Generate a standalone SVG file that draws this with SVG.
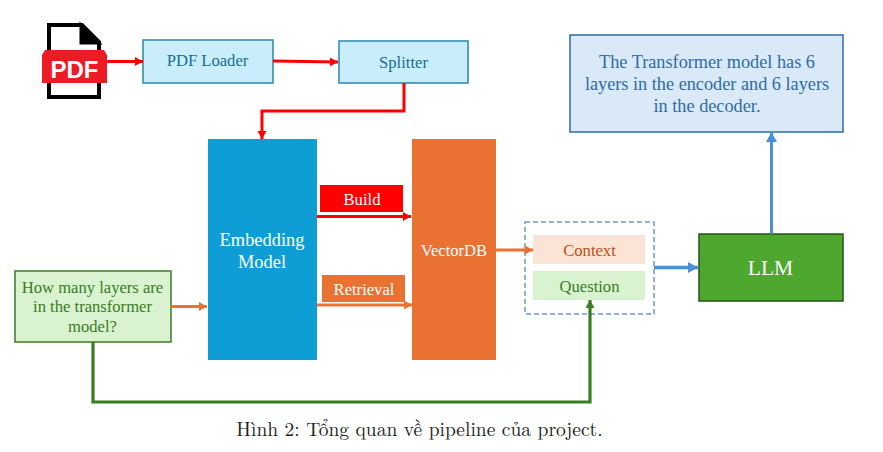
<svg xmlns="http://www.w3.org/2000/svg" width="883" height="452" viewBox="0 0 883 452">
<style>
text{font-family:"Liberation Serif","Times New Roman",serif;text-anchor:middle}
.conn{fill:none}
.r{stroke:#ff0000;stroke-width:3}
.o{stroke:#e97132;stroke-width:3}
.g{stroke:#3a7d22;stroke-width:3.2}
.b{stroke:#4a90d9;stroke-width:3.5}
.lb{fill:#caedfb;stroke:#2a86a8;stroke-width:1.5}
</style>
<defs>
<marker id="ar" markerUnits="userSpaceOnUse" markerWidth="10" markerHeight="10" refX="8" refY="4.5" orient="auto"><path d="M0 0L8 4.5L0 9Z" fill="#ff0000"/></marker>
<marker id="ao" markerUnits="userSpaceOnUse" markerWidth="10" markerHeight="10" refX="8" refY="4.5" orient="auto"><path d="M0 0L8 4.5L0 9Z" fill="#e97132"/></marker>
<marker id="ag" markerUnits="userSpaceOnUse" markerWidth="10" markerHeight="10" refX="8" refY="4.5" orient="auto"><path d="M0 0L8 4.5L0 9Z" fill="#3a7d22"/></marker>
<marker id="ab" markerUnits="userSpaceOnUse" markerWidth="11" markerHeight="12" refX="10" refY="5.5" orient="auto"><path d="M0 0L10 5.5L0 11Z" fill="#4a90d9"/></marker>
</defs>
<rect width="883" height="452" fill="#fff"/>
<g id="pdf-icon">
<path d="M49 25H82L99 42V97H49Z" fill="#fff" stroke="#000" stroke-width="4"/>
<path d="M81 25V43H99Z" fill="#000" stroke="#000" stroke-width="3"/>
<path d="M45 50H104L107 55V83H42V55Z" fill="#ed1c24"/>
<text x="74.500" y="78" style="font-family:'Liberation Sans',sans-serif;font-weight:bold;font-size:24px" fill="#fff">PDF</text>
</g>
<g id="pdf-loader"><rect class="lb" x="143" y="40" width="130" height="43"/><text x="207.500" y="66" font-size="16.600" fill="#156f92">PDF Loader</text></g>
<g id="splitter"><rect class="lb" x="339" y="41" width="129" height="42"/><text x="403.500" y="68" font-size="16.600" fill="#156f92">Splitter</text></g>
<g id="answer"><rect x="570" y="35" width="273" height="97" fill="#dae9f7" stroke="#2e6ca4" stroke-width="1.500"/>
<text font-size="18.250" fill="#2e6ca4"><tspan x="707" y="68">The Transformer model has 6</tspan><tspan x="707" y="90">layers in the encoder and 6 layers</tspan><tspan x="707" y="112">in the decoder.</tspan></text></g>
<g id="embedding"><rect x="208" y="139" width="109" height="221" fill="#0e9ed5"/><text font-size="18.400" fill="#fff"><tspan x="262" y="246">Embedding</tspan><tspan x="262" y="268">Model</tspan></text></g>
<g id="vectordb"><rect x="412" y="139" width="84" height="221" fill="#e97132"/><text x="454" y="256" font-size="16.600" fill="#fff">VectorDB</text></g>
<g id="build"><rect x="320" y="185" width="83" height="27" fill="#ff0000"/><text x="362" y="205" font-size="16.600" fill="#fff">Build</text></g>
<g id="retrieval"><rect x="322" y="275" width="83" height="27" fill="#e97132"/><text x="364" y="295" font-size="16.600" fill="#fff">Retrieval</text></g>
<g id="query"><rect x="15" y="271" width="156" height="71" fill="#d9f2d0" stroke="#3a7d22" stroke-width="1.500"/>
<text font-size="16.600" fill="#3a7d22"><tspan x="92.500" y="293">How many layers are</tspan><tspan x="92.500" y="312">in the transformer</tspan><tspan x="92.500" y="332">model?</tspan></text></g>
<g id="prompt"><rect x="525" y="222" width="129" height="92" fill="#fff" stroke="#6f9bc8" stroke-width="1.500" stroke-dasharray="5 3"/></g>
<g id="context"><rect x="533" y="235" width="112" height="29" fill="#fbe3d6"/><text x="589.500" y="256" font-size="16.600" fill="#c04f15">Context</text></g>
<g id="question"><rect x="533" y="271" width="112" height="29" fill="#d9f2d0"/><text x="589.500" y="292" font-size="16.600" fill="#3a7d22">Question</text></g>
<g id="llm"><rect x="699" y="234" width="144" height="67" fill="#4ea72e" stroke="#275317" stroke-width="1.500"/><text x="770.500" y="275" font-size="21.500" fill="#fff">LLM</text></g>
<g id="connectors" class="conn">
<path class="r" d="M107 61.500H143" marker-end="url(#ar)"/>
<path class="r" d="M273 61L338 62" marker-end="url(#ar)"/>
<path class="r" d="M404 83V111H262V139" marker-end="url(#ar)"/>
<path class="r" d="M317 216.500H411" marker-end="url(#ar)"/>
<path class="o" d="M317 305H412" marker-end="url(#ao)"/>
<path class="o" d="M171 306.500H207" marker-end="url(#ao)"/>
<path class="o" d="M496 250H533" marker-end="url(#ao)"/>
<path class="b" d="M654 267.500H698" marker-end="url(#ab)"/>
<path class="g" d="M93 342V402H590V300" marker-end="url(#ag)"/>
<path class="b" style="stroke-width:3" d="M771.500 234V132" marker-end="url(#ab)"/>
</g>
<text x="419.500" y="436" font-size="19.500" style="font-family:'Latin Modern Roman','Liberation Serif',serif" fill="#222">Hình 2: Tổng quan về pipeline của project.</text>
</svg>
